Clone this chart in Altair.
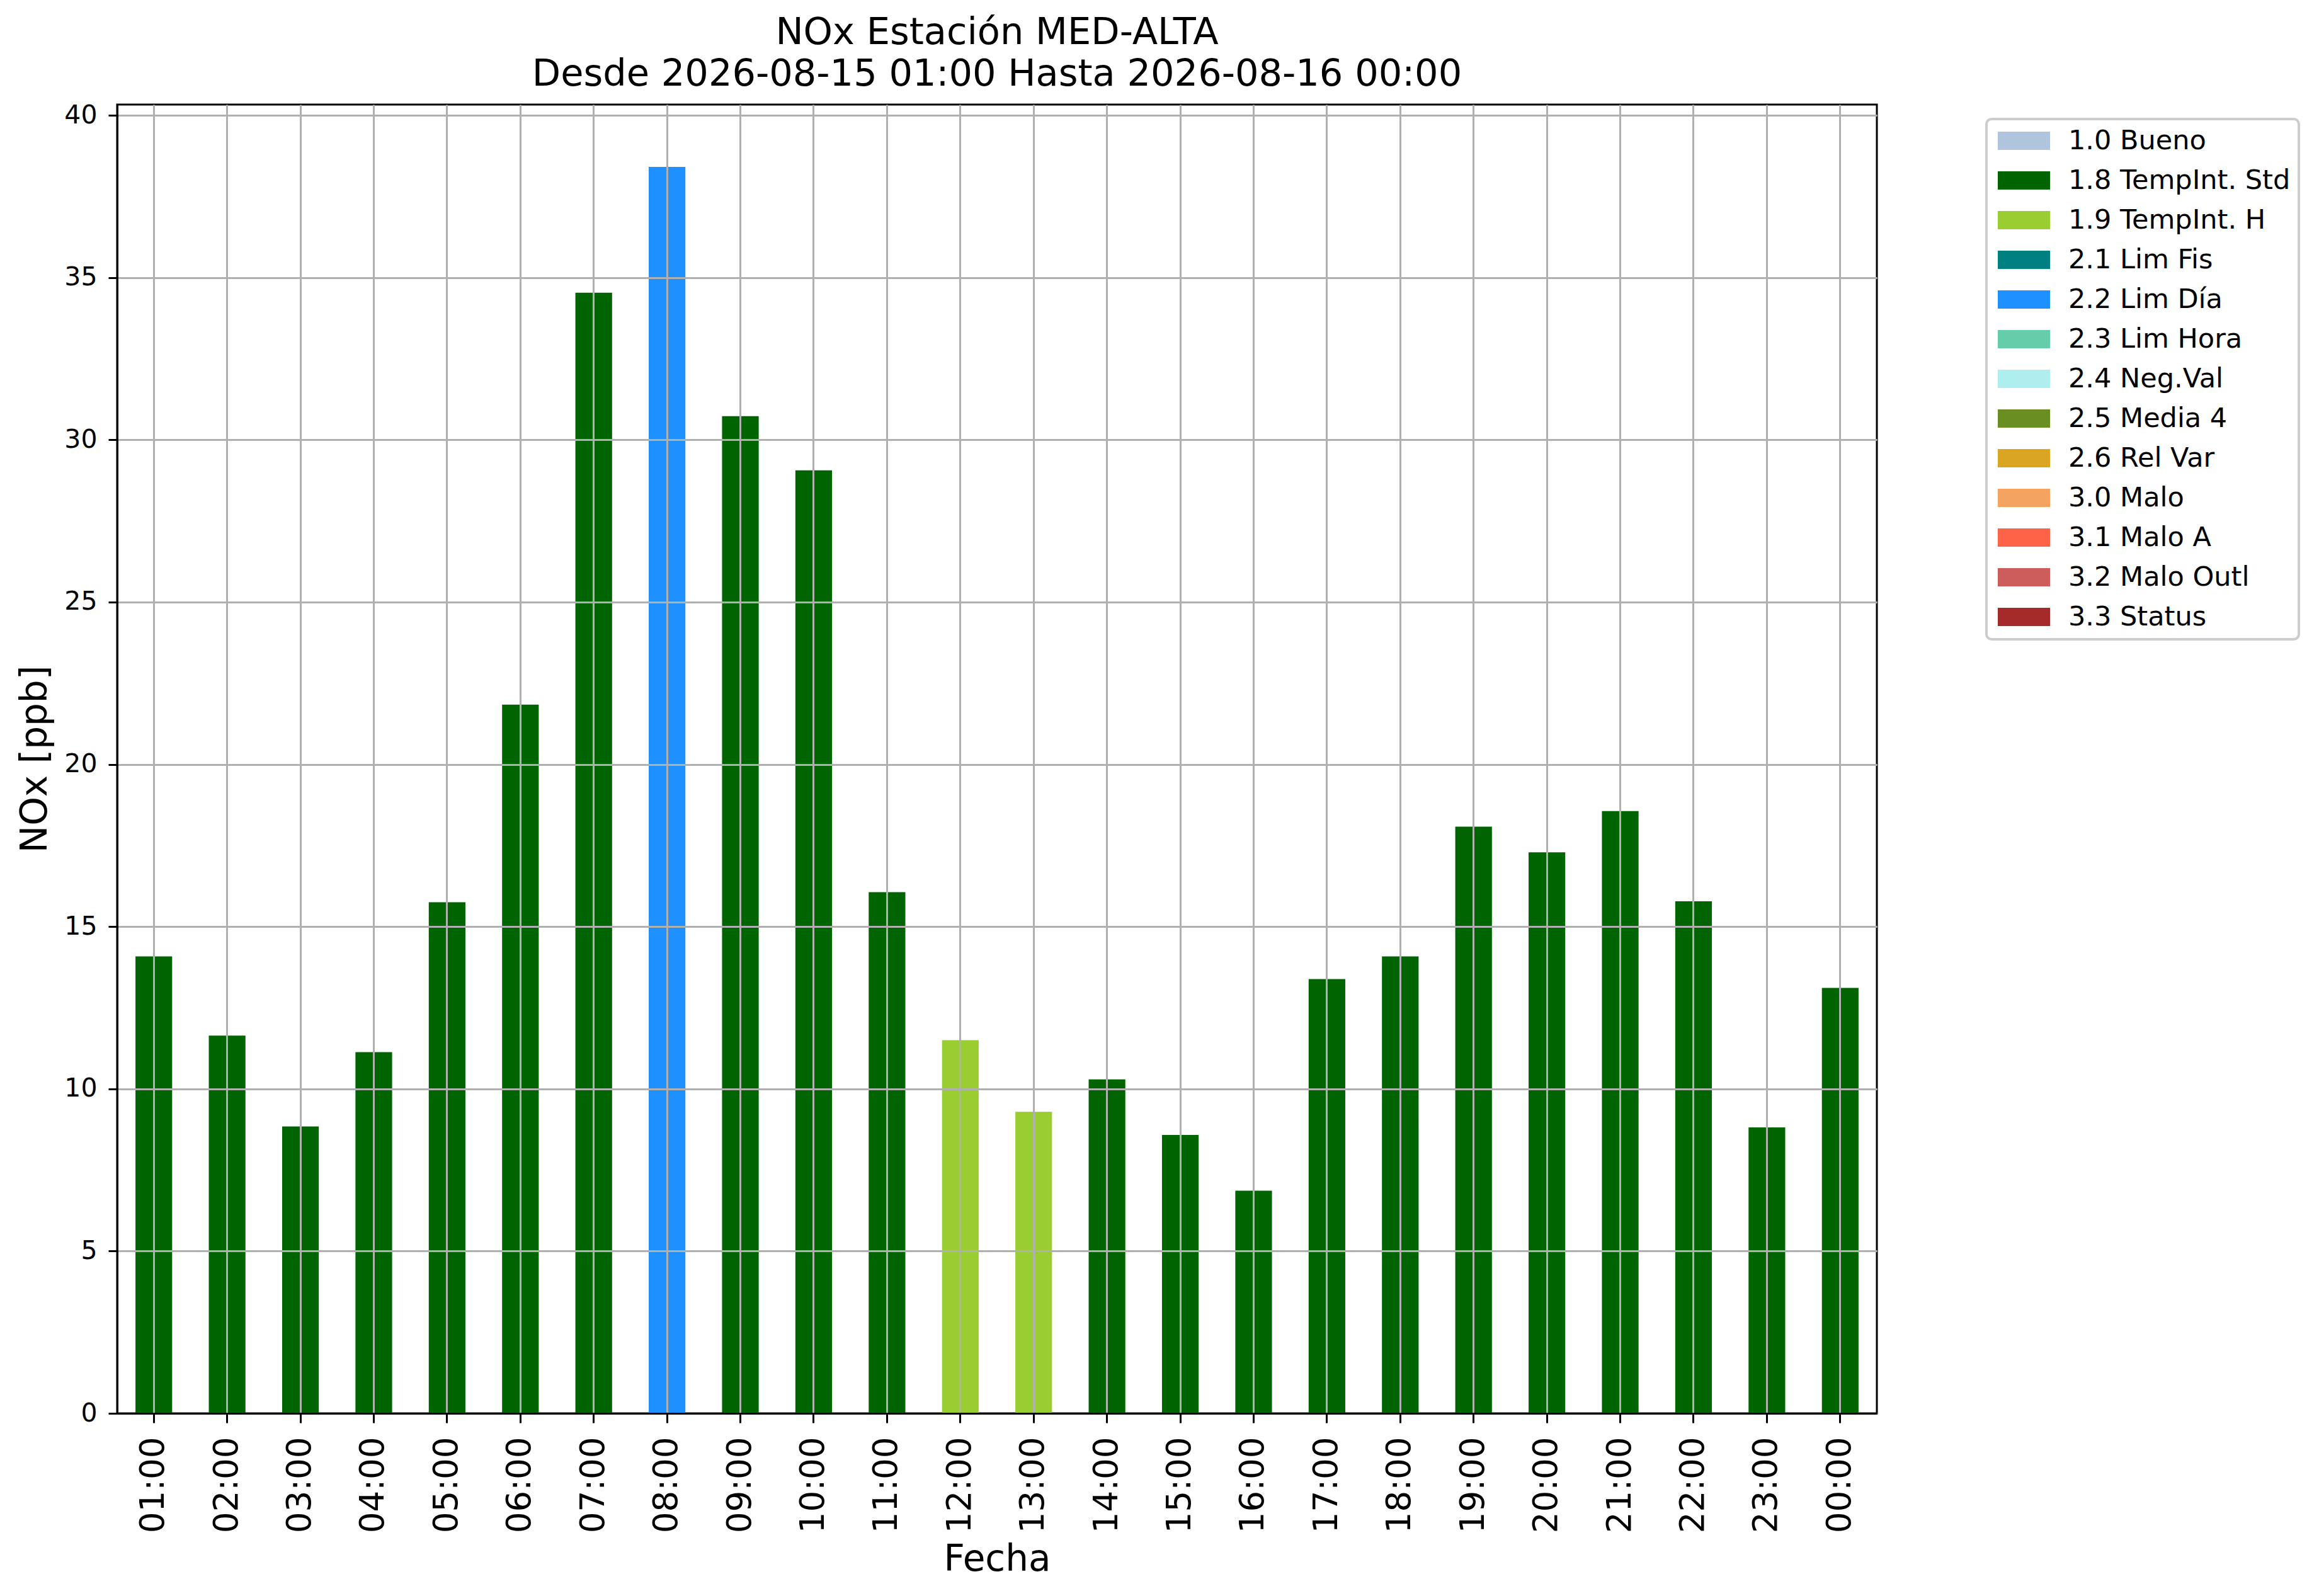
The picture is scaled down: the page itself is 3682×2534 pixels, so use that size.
import altair as alt
import pandas as pd

# ---- data ----
hours = ["01:00", "02:00", "03:00", "04:00", "05:00", "06:00", "07:00", "08:00",
         "09:00", "10:00", "11:00", "12:00", "13:00", "14:00", "15:00", "16:00",
         "17:00", "18:00", "19:00", "20:00", "21:00", "22:00", "23:00", "00:00"]
values = [14.08, 11.64, 8.84, 11.13, 15.75, 21.84, 34.53, 38.41,
          30.73, 29.06, 16.06, 11.50, 9.29, 10.29, 8.58, 6.86,
          13.38, 14.08, 18.08, 17.29, 18.56, 15.78, 8.81, 13.11]
flags = ["1.8 TempInt. Std"] * 7 + ["2.2 Lim Día"] + ["1.8 TempInt. Std"] * 3 + \
        ["1.9 TempInt. H"] * 2 + ["1.8 TempInt. Std"] * 11

flag_names = ["1.0 Bueno", "1.8 TempInt. Std", "1.9 TempInt. H", "2.1 Lim Fis",
              "2.2 Lim Día", "2.3 Lim Hora", "2.4 Neg.Val", "2.5 Media 4",
              "2.6 Rel Var", "3.0 Malo", "3.1 Malo A", "3.2 Malo Outl", "3.3 Status"]
flag_colors = ["#B0C4DE", "#006400", "#9ACD32", "#008080", "#1E90FF", "#66CDAA",
               "#AFEEEE", "#6B8E23", "#DAA520", "#F4A460", "#FF6347", "#CD5C5C",
               "#A52A2A"]

title_lines = ["NOx Estación MED-ALTA", "Desde 2026-08-15 01:00 Hasta 2026-08-16 00:00"]
y_ticks = [0, 5, 10, 15, 20, 25, 30, 35, 40]

df = pd.DataFrame({"Fecha": hours, "NOx": values, "Flag": flags})

FONT = "DejaVu Sans"

chart = alt.Chart(df).mark_bar(strokeWidth=0).encode(
    x=alt.X("Fecha:N", sort=hours,
            scale=alt.Scale(paddingInner=0.5, paddingOuter=0.25),
            axis=alt.Axis(title="Fecha", labelAngle=270, labelFontSize=53,
                          labelPadding=22, tickSize=15, titlePadding=14,
                          bandPosition=0.5, zindex=1)),
    y=alt.Y("NOx:Q", scale=alt.Scale(domain=[0, 40.33], nice=False, zero=True),
            axis=alt.Axis(title="NOx [ppb]", values=y_ticks, labelFontSize=41,
                          labelPadding=18, tickSize=14, titlePadding=16, zindex=1)),
    color=alt.Color("Flag:N",
                    scale=alt.Scale(domain=flag_names, range=flag_colors),
                    legend=alt.Legend(
                        title=None, orient="none", legendX=2968, legendY=23,
                        symbolType="M-2.024,-0.707H2.024V0.707H-2.024Z",
                        symbolSize=1681, symbolOffset=25,
                        symbolStrokeWidth=0, symbolOpacity=1,
                        labelFontSize=43, labelFont=FONT, labelColor="black",
                        labelLimit=1000, labelOffset=49, rowPadding=19,
                        padding=13, strokeColor="#cccccc",
                        cornerRadius=8, fillColor="white")),
).properties(
    width=2794,
    height=2078,
    autosize="none",
    padding={"left": 178, "top": 158, "right": 694, "bottom": 282},
    title=alt.TitleParams(title_lines, fontSize=59, font=FONT, fontWeight="normal",
                          anchor="middle", frame="group", offset=14,
                          lineHeight=66, color="black"),
).configure(
    font=FONT,
).configure_view(
    stroke="black", strokeWidth=3,
).configure_legend(
    strokeWidth=4,
).configure_axis(
    labelFont=FONT, titleFont=FONT, labelColor="black", titleColor="black",
    titleFontSize=58, titleFontWeight="normal",
    domainColor="black", domainWidth=3, tickColor="black", tickWidth=3,
    grid=True, gridColor="#b0b0b0", gridWidth=3,
)

chart.save("out.html", embed_options={"renderer": "svg", "actions": False})
